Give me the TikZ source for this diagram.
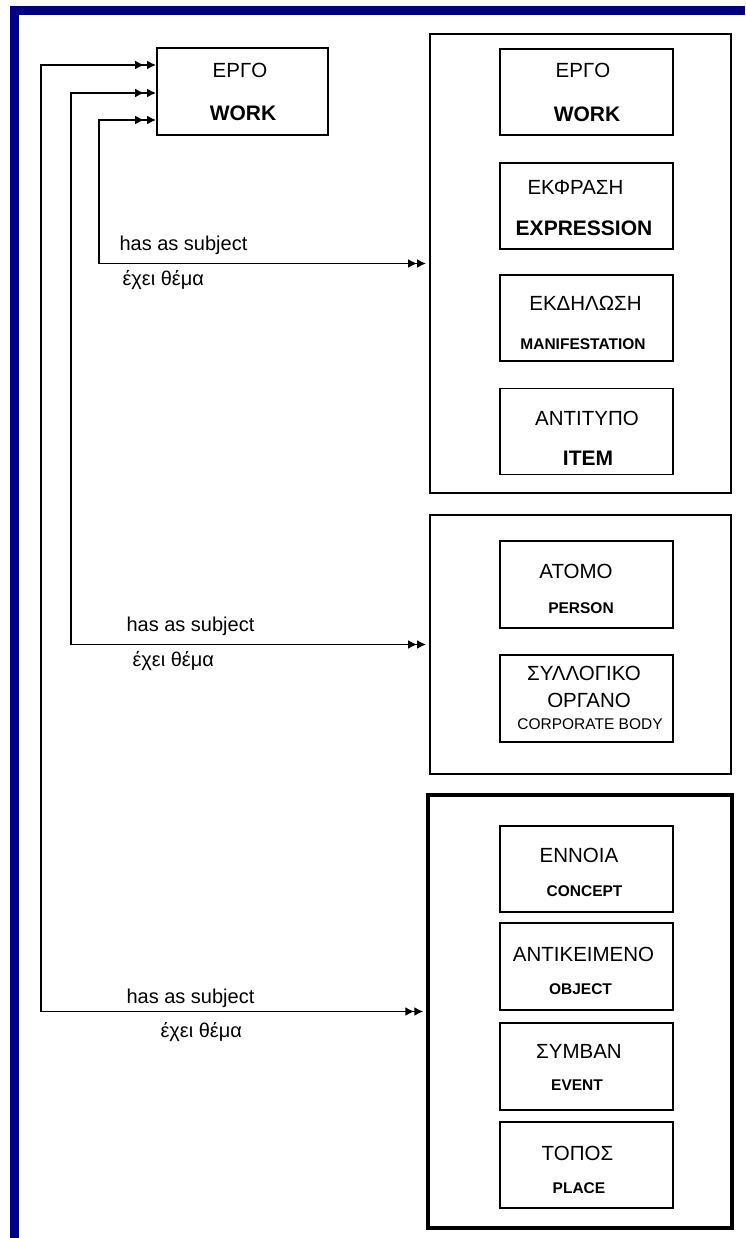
\documentclass[tikz,border=0pt]{standalone}
\usepackage{fontspec}
\setmainfont{Liberation Sans}
\usetikzlibrary{positioning,arrows.meta}
\definecolor{navyframe}{RGB}{0,0,128}
\tikzset{
  ent/.style={draw,line width=1.8pt,minimum width=173pt,minimum height=86pt,inner sep=0pt},
  grp/.style={draw,line width=1.8pt,minimum width=301pt,inner sep=0pt},
  rel/.style={line width=1.8pt,
    {Latex[length=9pt,width=9pt,sep=3pt]Latex[length=9pt,width=9pt]}-{Latex[length=9pt,width=9pt,sep=3pt]Latex[length=9pt,width=9pt]}},
  grk/.style={font=\fontsize{20.5}{24}\selectfont},
  eng/.style={font=\fontsize{21}{24}\selectfont\bfseries},
  engs/.style={font=\fontsize{15.5}{18}\selectfont\bfseries},
  rlbl/.style={font=\fontsize{20}{24}\selectfont,anchor=base west},
}
\begin{document}
\begin{tikzpicture}[x=1pt,y=-1pt]
  \useasboundingbox (0,0) rectangle (745,1238);
  % frame
  \fill[navyframe] (10,6) rectangle (745,15);
  \fill[navyframe] (10,6) rectangle (19,1238);

  % the subject work
  \node[draw,line width=1.8pt,minimum width=171pt,minimum height=87pt,inner sep=0pt] (work) at (242.5,91.5) {};
  \node[grk] at (240,70) {ΕΡΓΟ};
  \node[eng] at (243,113) {WORK};

  % group 1
  \node[grp,minimum height=459pt] (grpwork) at (580.5,263.5) {};
  \node[ent] (w1) at (586.5,92) {};
  \node[grk] at (583,70) {ΕΡΓΟ};
  \node[eng] at (587,114.5) {WORK};
  \node[ent] (w2) at (586.5,206) {};
  \node[grk] at (575.5,187.5) {ΕΚΦΡΑΣΗ};
  \node[eng] at (584,228.5) {EXPRESSION};
  \node[ent] (w3) at (586.5,318) {};
  \node[grk] at (585.5,303) {ΕΚΔΗΛΩΣΗ};
  \node[engs] at (583,344) {MANIFESTATION};
  \node[ent] (w4) at (586.5,431.5) {};
  \node[grk] at (587,418.5) {ΑΝΤΙΤΥΠΟ};
  \node[eng] at (588,458.5) {ITEM};

  % group 2
  \node[grp,minimum height=259pt] (grpagent) at (580.5,644.5) {};
  \node[ent,minimum height=87pt] (a1) at (586.5,584.5) {};
  \node[grk] at (576,571) {ΑΤΟΜΟ};
  \node[engs] at (581,608.5) {PERSON};
  \node[ent,minimum height=87pt] (a2) at (586.5,698.5) {};
  \node[grk] at (584,673) {ΣΥΛΛΟΓΙΚΟ};
  \node[grk] at (589,700.5) {ΟΡΓΑΝΟ};
  \node[font=\fontsize{15.5}{18}\selectfont] at (590,724) {CORPORATE BODY};

  % group 3
  \node[grp,line width=3.3pt,minimum width=304pt,minimum height=433pt] (grpsubj) at (580,1011.5) {};
  \node[ent] (s1) at (586.5,869) {};
  \node[grk] at (579,855) {ΕΝΝΟΙΑ};
  \node[engs] at (584.5,891) {CONCEPT};
  \node[ent,minimum height=87pt] (s2) at (586.5,966.5) {};
  \node[grk] at (583.5,954.5) {ΑΝΤΙΚΕΙΜΕΝΟ};
  \node[engs] at (580.5,989) {OBJECT};
  \node[ent,minimum height=87pt] (s3) at (586.5,1066.5) {};
  \node[grk] at (579,1051) {ΣΥΜΒΑΝ};
  \node[engs] at (577,1085) {EVENT};
  \node[ent] (s4) at (586.5,1165) {};
  \node[grk] at (577.5,1153.5) {ΤΟΠΟΣ};
  \node[engs] at (579,1188.5) {PLACE};

  % has as subject
  \coordinate (k1) at (41,65);
  \coordinate (k2) at (71,93);
  \coordinate (k3) at (99,120);
  \draw[rel] (grpwork.west) -| (k3) -- (work.west |- k3);
  \draw[rel] (grpagent.west) -| (k2) -- (work.west |- k2);
  \draw[rel] (grpsubj.west) -| (k1) -- (work.west |- k1);

  \node[rlbl] (hs1) at (116,251) {has as subject};
  \node[rlbl] (ex1) at (119,286) {έχει θέμα};
  \node[rlbl] (hs2) at (123,631) {has as subject};
  \node[rlbl] (ex2) at (129,666) {έχει θέμα};
  \node[rlbl] (hs3) at (123,1003) {has as subject};
  \node[rlbl] (ex3) at (157,1037) {έχει θέμα};
\end{tikzpicture}
\end{document}
